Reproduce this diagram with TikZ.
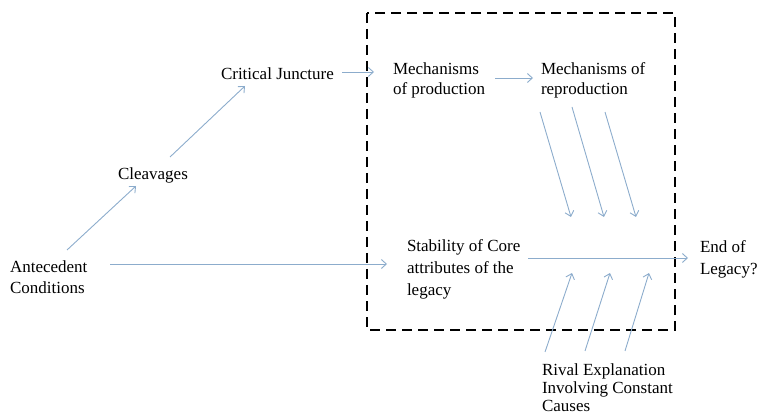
\documentclass[tikz,border=0pt]{standalone}
\usepackage{fontspec}
\setmainfont{Liberation Serif}
\usetikzlibrary{arrows.meta}
\definecolor{arrblue}{RGB}{140,172,204}
\tikzset{
  lbl/.style={inner sep=0pt, outer sep=0pt, align=left, font=\fontsize{17}{21}\selectfont},
  arr/.style={draw=arrblue, line width=0.9pt, -{Straight Barb[length=5pt,width=9pt]}},
  frame/.style={draw=black, line width=2.6pt, dash pattern=on 10pt off 6pt}
}
\begin{document}
\begin{tikzpicture}[x=1pt,y=-1pt]
\useasboundingbox (0,0) rectangle (758,414);
% dashed frame
\draw[frame] (367,13) rectangle (675,330);
% texts
\node[lbl, anchor=north west] (ant) at (10,261) {Antecedent\\Conditions};
\node[lbl, anchor=base west] (clv) at (118,180) {Cleavages};
\node[lbl, anchor=base west] (cj) at (221,80) {Critical Juncture};
\node[lbl, anchor=north west, font=\fontsize{17}{20}\selectfont] (mop) at (393,63) {Mechanisms\\of production};
\node[lbl, anchor=north west, font=\fontsize{17}{20}\selectfont] (mor) at (541,63) {Mechanisms of\\reproduction};
\node[lbl, anchor=north west, font=\fontsize{17}{22}\selectfont] (stab) at (407,240) {Stability of Core\\attributes of the\\legacy};
\node[lbl, anchor=north west, font=\fontsize{17}{22}\selectfont] (end) at (700,241) {End of\\Legacy?};
\node[lbl, anchor=north west, font=\fontsize{17}{18}\selectfont] (rival) at (542,364) {Rival Explanation\\Involving Constant\\Causes};
% coordinates for connector ends
\coordinate (a1s) at (67,250);  \coordinate (a1e) at (136,186);
\coordinate (a2s) at (170,157); \coordinate (a2e) at (245,86);
\coordinate (a3s) at (342,72);  \coordinate (a3e) at (374,72);
\coordinate (a4s) at (495,78);  \coordinate (a4e) at (533,78);
\coordinate (a5s) at (110,264); \coordinate (a5e) at (387,264);
\coordinate (a6s) at (528,258); \coordinate (a6e) at (688,258);
\coordinate (d1s) at (540,112); \coordinate (d1e) at (571,217);
\coordinate (d2s) at (572,107); \coordinate (d2e) at (604,217);
\coordinate (d3s) at (605,112); \coordinate (d3e) at (636,217);
\coordinate (u1s) at (545,352); \coordinate (u1e) at (572,273);
\coordinate (u2s) at (585,351); \coordinate (u2e) at (610,273);
\coordinate (u3s) at (625,351); \coordinate (u3e) at (649,273);
% connectors
\draw[arr] (a1s) -- (a1e);
\draw[arr] (a2s) -- (a2e);
\draw[arr] (a3s) -- (a3e);
\draw[arr] (a4s) -- (a4e);
\draw[arr] (a5s) -- (a5e);
\draw[arr] (a6s) -- (a6e);
\draw[arr] (d1s) -- (d1e);
\draw[arr] (d2s) -- (d2e);
\draw[arr] (d3s) -- (d3e);
\draw[arr] (u1s) -- (u1e);
\draw[arr] (u2s) -- (u2e);
\draw[arr] (u3s) -- (u3e);
\end{tikzpicture}
\end{document}
